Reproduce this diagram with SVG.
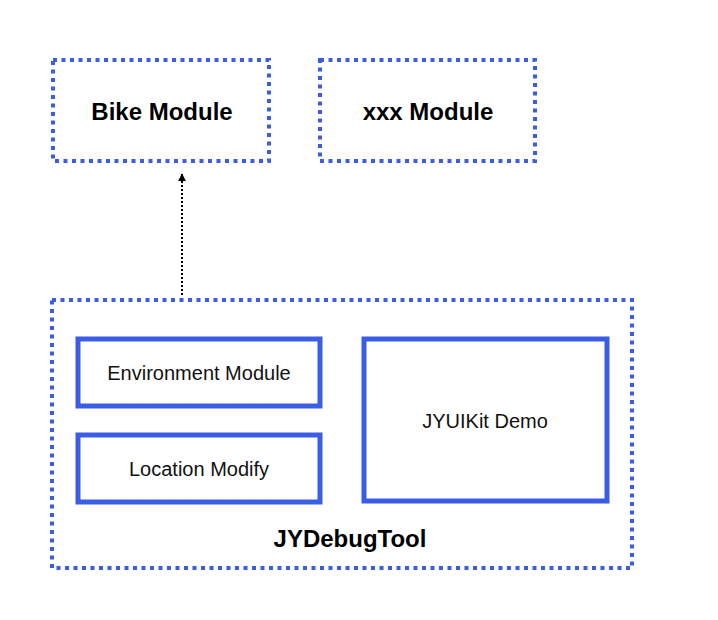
<svg xmlns="http://www.w3.org/2000/svg" width="718" height="620" viewBox="0 0 718 620">
<style>
.dot{fill:none;stroke:#3b5ce4;stroke-width:4;stroke-dasharray:4 4.5}
.solid{fill:none;stroke:#3b5ce4;stroke-width:5}
.b{font-family:"Liberation Sans",Arial,sans-serif;font-weight:bold;font-size:24px;fill:#000;text-anchor:middle}
.r{font-family:"Liberation Sans",Arial,sans-serif;font-size:20px;fill:#111;text-anchor:middle}
</style>
<defs>
<marker id="ah" viewBox="0 0 10 10" refX="9" refY="5" markerWidth="8" markerHeight="8" markerUnits="userSpaceOnUse" orient="auto">
<path d="M0,0 L10,5 L0,10 z" fill="#000"/>
</marker>
</defs>
<rect width="718" height="620" fill="#fff"/>
<g id="bike">
<rect class="dot" x="53" y="60" width="216" height="101"/>
<text class="b" x="162" y="120">Bike Module</text>
</g>
<g id="xxx">
<rect class="dot" x="320" y="60" width="215" height="101"/>
<text class="b" x="428" y="120">xxx Module</text>
</g>
<g id="jydebug">
<rect class="dot" x="52" y="300" width="580" height="268"/>
<text class="b" x="350" y="547">JYDebugTool</text>
</g>
<g id="env">
<rect class="solid" x="78" y="339" width="242" height="67"/>
<text class="r" x="199" y="380">Environment Module</text>
</g>
<g id="loc">
<rect class="solid" x="78" y="435" width="242" height="67"/>
<text class="r" x="199" y="476">Location Modify</text>
</g>
<g id="jyui">
<rect class="solid" x="364" y="339" width="243" height="162"/>
<text class="r" x="485" y="428">JYUIKit Demo</text>
</g>
<g id="connectors">
<line x1="182" y1="295" x2="182" y2="174" stroke="#000" stroke-width="2" stroke-dasharray="2 2" marker-end="url(#ah)"/>
</g>
</svg>
